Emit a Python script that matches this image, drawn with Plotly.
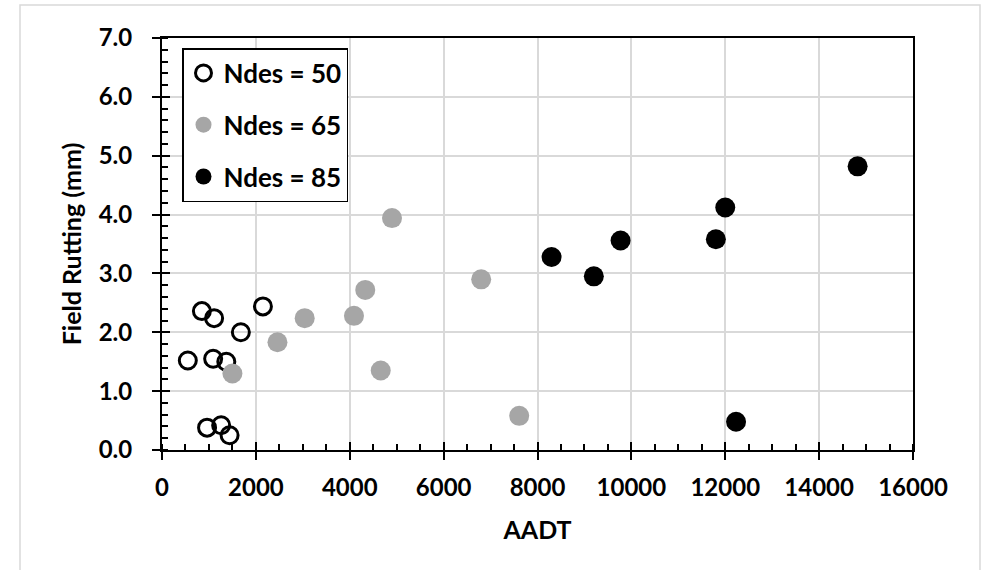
import plotly.graph_objects as go

# ---- data ----
x_n50 = [850, 1110, 1680, 2150, 550, 1090, 1370, 960, 1260, 1440]
y_n50 = [2.36, 2.24, 2.00, 2.44, 1.52, 1.55, 1.50, 0.38, 0.42, 0.25]

x_n65 = [1500, 2460, 3040, 4090, 4330, 4660, 4900, 6800, 7610]
y_n65 = [1.30, 1.83, 2.24, 2.28, 2.72, 1.35, 3.94, 2.90, 0.58]

x_n85 = [8300, 9200, 9770, 11800, 12000, 14820, 12230]
y_n85 = [3.28, 2.95, 3.56, 3.58, 4.12, 4.82, 0.48]

series_names = ["Ndes = 50", "Ndes = 65", "Ndes = 85"]
x_title = "AADT"
y_title = "Field Rutting (mm)"
x_range = [0, 16000]
y_range = [0, 7]

# ---- layout constants ----
W, H = 982, 570
L, R, T, B = 162, 69, 38, 120
FONT = dict(family="Lato", size=24, color="black", weight="bold")
TFONT = dict(family="Lato", size=25, color="black", weight="bold")

fig = go.Figure()

fig.add_trace(go.Scatter(
    x=x_n50, y=y_n50, mode="markers", name=series_names[0], legendgroup="a",
    marker=dict(symbol="circle-open", size=17, color="black", line=dict(width=3, color="black")),
))
fig.add_trace(go.Scatter(
    x=x_n65, y=y_n65, mode="markers", name=series_names[1], legendgroup="b",
    marker=dict(symbol="circle", size=20, color="#a6a6a6", line=dict(width=0)),
))
fig.add_trace(go.Scatter(
    x=x_n85, y=y_n85, mode="markers", name=series_names[2], legendgroup="c",
    marker=dict(symbol="circle", size=20, color="black", line=dict(width=0)),
))

common = dict(showline=True, linecolor="black", linewidth=2, mirror=True,
              showgrid=True, gridcolor="#d9d9d9", gridwidth=1.5, zeroline=False,
              ticks="outside", ticklen=8, tickwidth=2, tickcolor="black",
              tickfont=FONT)

fig.update_layout(
    width=W, height=H,
    margin=dict(l=L, r=R, t=T, b=B, autoexpand=False),
    paper_bgcolor="white", plot_bgcolor="white",
    font=FONT,
    showlegend=True,
    legend=dict(
        x=(182 - L) / (W - L - R), y=(H - B - 48) / (H - T - B),
        xanchor="left", yanchor="top",
        bgcolor="white", bordercolor="black", borderwidth=1.5,
        font=dict(family="Lato", size=26, color="black", weight="bold"),
        tracegroupgap=15, itemsizing="trace",
    ),
    xaxis=dict(range=x_range, dtick=2000, tick0=0, tickformat="d", **common,
               minor=dict(dtick=500, ticks="inside", ticklen=6, tickwidth=1.5, tickcolor="black", showgrid=False),
               ticklabelstandoff=7,
               title=dict(text=x_title, font=TFONT, standoff=22)),
    yaxis=dict(range=y_range, dtick=1, tick0=0, tickformat=".1f", **common,
               minor=dict(dtick=0.2, ticks="inside", ticklen=6, tickwidth=1.5, tickcolor="black", showgrid=False),
               ticklabelstandoff=15,
               title=dict(text=y_title, font=TFONT, standoff=10)),
    xaxis2=dict(range=x_range, dtick=2000, tick0=0, overlaying="x", anchor="y",
                ticks="inside", ticklen=8, tickwidth=2, tickcolor="black",
                showticklabels=False, showgrid=False, zeroline=False, showline=False, side="bottom"),
    yaxis2=dict(range=y_range, dtick=1, tick0=0, overlaying="y", anchor="x",
                ticks="inside", ticklen=8, tickwidth=2, tickcolor="black",
                showticklabels=False, showgrid=False, zeroline=False, showline=False, side="left"),
)

# dummy invisible trace to activate secondary axes
fig.add_trace(go.Scatter(x=[x_range[0]], y=[y_range[0]], xaxis="x2", yaxis="y2",
                         mode="markers", marker=dict(opacity=0), showlegend=False, hoverinfo="skip"))

# light gray outer chart border
pw, ph = W - L - R, H - T - B
fig.add_shape(type="rect", xref="paper", yref="paper",
              x0=(20 - L) / pw, x1=(980 - L) / pw,
              y0=(H - B - 575) / ph, y1=(H - B - 5) / ph,
              line=dict(color="#d9d9d9", width=1.5), fillcolor="rgba(0,0,0,0)", layer="below")

fig.write_html("out.html")
